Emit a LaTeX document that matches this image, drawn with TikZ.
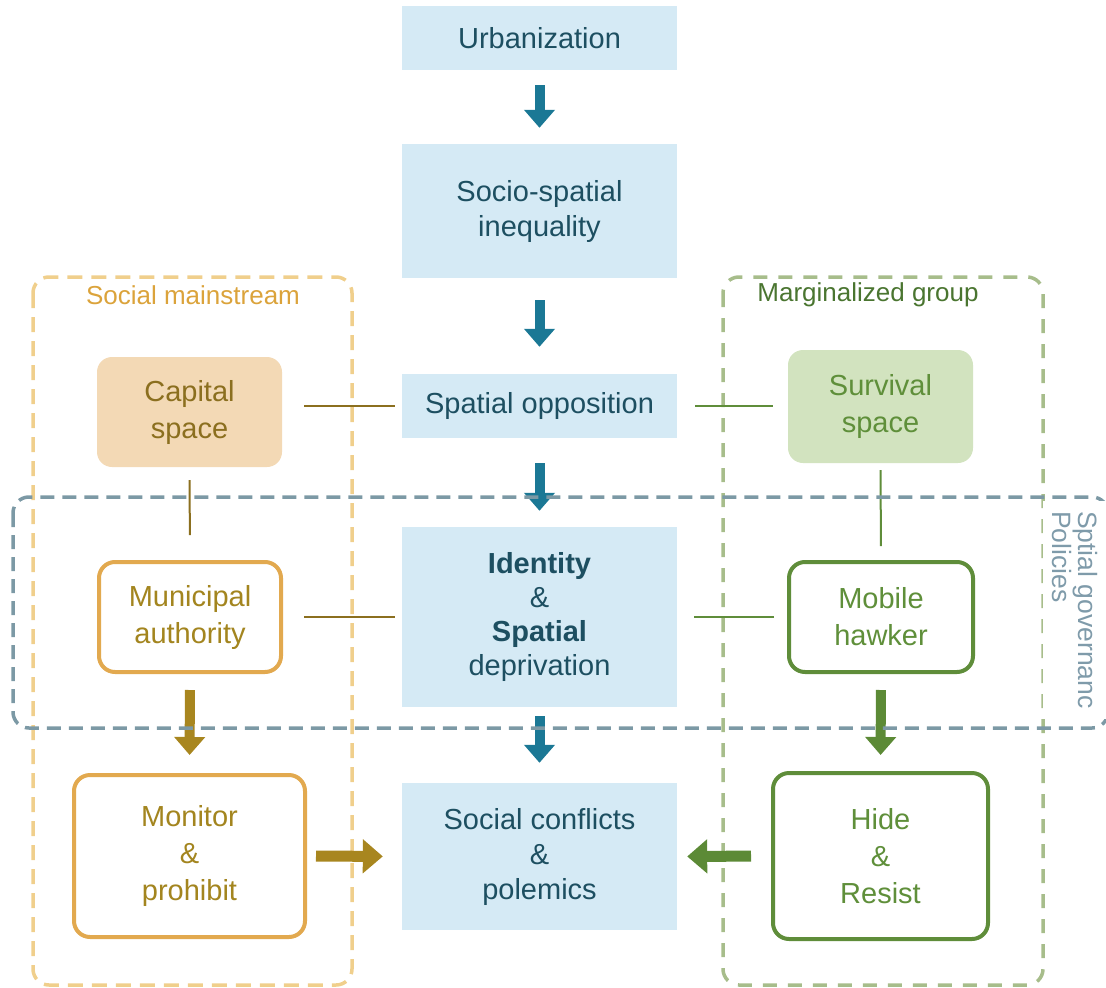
\documentclass[tikz,border=0pt]{standalone}
\usepackage{fontspec}
\setmainfont{Liberation Sans}
\usetikzlibrary{arrows.meta}

\definecolor{blueFill}{HTML}{D5EAF5}
\definecolor{blueText}{HTML}{1D4F61}
\definecolor{blueArrow}{HTML}{1B7895}
\definecolor{govDash}{HTML}{7C99A5}
\definecolor{govText}{HTML}{7F9BAA}
\definecolor{goldDash}{HTML}{F0CF8C}
\definecolor{goldTitle}{HTML}{DBA33B}
\definecolor{goldBorder}{HTML}{E2A94F}
\definecolor{goldText}{HTML}{A3851F}
\definecolor{goldDark}{HTML}{8B6F1F}
\definecolor{goldArrow}{HTML}{A8861F}
\definecolor{peachFill}{HTML}{F3D9B5}
\definecolor{greenDash}{HTML}{A7BD8B}
\definecolor{greenTitle}{HTML}{4A7530}
\definecolor{greenFill}{HTML}{D2E3BF}
\definecolor{greenText}{HTML}{5F8F3A}
\definecolor{greenBorder}{HTML}{5F8D3A}
\definecolor{greenArrow}{HTML}{5C8A36}

\begin{document}
\begin{tikzpicture}[x=1pt,y=-1pt,
  mainbox/.style={fill=blueFill, text=blueText, minimum width=275, inner sep=0,
    align=center, font=\fontsize{29}{35}\selectfont},
  sidefont/.style={align=center, inner sep=0, font=\fontsize{29}{37}\selectfont},
  capbox/.style={sidefont, fill=peachFill, text=goldDark, rounded corners=15},
  survbox/.style={sidefont, fill=greenFill, text=greenText, rounded corners=15},
  goldbox/.style={sidefont, draw=goldBorder, line width=4pt, fill=white, text=goldText, rounded corners=16},
  greenbox/.style={sidefont, draw=greenBorder, line width=4pt, fill=white, text=greenText, rounded corners=16},
  golddash/.style={draw=goldDash, line width=3.5pt, dash pattern=on 15pt off 9pt, rounded corners=16},
  greendash/.style={draw=greenDash, line width=3.5pt, dash pattern=on 14pt off 11pt, rounded corners=16},
  govdash/.style={draw=govDash, line width=3.5pt, dash pattern=on 14pt off 8pt, rounded corners=16},
  goldthin/.style={draw=goldDark, line width=2pt},
  greenthin/.style={draw=greenBorder, line width=2pt},
  vblock/.style={line width=10pt, -{Triangle[width=30pt,length=18pt]}},
  hblock/.style={line width=11pt, -{Triangle[width=33pt,length=20pt]}},
  titlefont/.style={font=\fontsize{26}{30}\selectfont, inner sep=0}
]
\useasboundingbox (0,0) rectangle (1106,988);

% group containers
\draw[golddash] (33,277) rectangle (352,985);
\draw[greendash] (723,277) rectangle (1043,985);
\node[titlefont, text=goldTitle] (tmain) at (193,295) {Social mainstream};
\node[titlefont, text=greenTitle] (tmarg) at (868,295) {Marginalized group};

% central chain
\node[mainbox, minimum height=64] (urb) at (539.5,38) {Urbanization};
\node[mainbox, minimum height=134] (ineq) at (539.5,211) {Socio-spatial\\inequality};
\node[mainbox, minimum height=64] (opp) at (539.5,406) {Spatial opposition};
\node[mainbox, minimum height=180, font=\fontsize{29}{34}\selectfont] (dep) at (539.5,617)
  {\textbf{Identity}\\\&\\\textbf{Spatial}\\deprivation};
\node[mainbox, minimum height=147] (conf) at (539.5,856.5) {Social conflicts\\\&\\polemics};

% side actors
\node[capbox, minimum width=185, minimum height=110] (cap) at (189.5,412) {Capital\\space};
\node[survbox, minimum width=185, minimum height=113] (surv) at (880.5,406.5) {Survival\\space};
\node[goldbox, minimum width=182, minimum height=110] (muni) at (190,617) {Municipal\\authority};
\node[greenbox, minimum width=184, minimum height=110] (mob) at (881,617) {Mobile\\hawker};
\node[goldbox, minimum width=231, minimum height=162] (mon) at (189.5,856) {Monitor\\\&\\prohibit};
\node[greenbox, minimum width=215, minimum height=166] (hide) at (880.5,856) {Hide\\\&\\Resist};

% plain links
\draw[goldthin, shorten <=22pt, shorten >=7pt] (cap.east |- opp.west) -- (opp.west);
\draw[greenthin, shorten <=15pt, shorten >=18pt] (surv.west |- opp.east) -- (opp.east);
\draw[goldthin, shorten <=13pt, shorten >=25pt] (cap.south) -- (muni.north);
\draw[greenthin, shorten <=7pt, shorten >=14pt] (surv.south) -- (mob.north);
\draw[goldthin, shorten <=21pt, shorten >=7pt] (muni.east) -- (dep.west);
\draw[greenthin, shorten <=13pt, shorten >=17pt] (mob.west) -- (dep.east);

% block arrows
\draw[vblock, blueArrow, shorten <=15pt, shorten >=16pt] (urb.south) -- (ineq.north);
\draw[vblock, blueArrow, shorten <=22pt, shorten >=27pt] (ineq.south) -- (opp.north);
\draw[vblock, blueArrow, shorten <=25pt, shorten >=16pt] (opp.south) -- (dep.north);
\draw[vblock, blueArrow, shorten <=9pt, shorten >=20pt] (dep.south) -- (conf.north);
\draw[vblock, goldArrow, shorten <=16pt, shorten >=18pt] (muni.south) -- (mon.north);
\draw[vblock, greenArrow, shorten <=16pt, shorten >=16pt] (mob.south) -- (hide.north);
\draw[hblock, goldArrow, shorten <=9pt, shorten >=19pt] (mon.east) -- (conf.west);
\draw[hblock, greenArrow, shorten <=20pt, shorten >=10pt] (hide.west) -- (conf.east);

% governance band
\draw[govdash] (13,497) rectangle (1108,728);
\node[rotate=-90, anchor=north west, align=left, fill=white, text=govText,
  inner xsep=10pt, inner ysep=10pt, font=\fontsize{26.5}{20}\selectfont] (gov) at (1108,501)
  {Sptial governanc\\Policies};
\end{tikzpicture}
\end{document}
